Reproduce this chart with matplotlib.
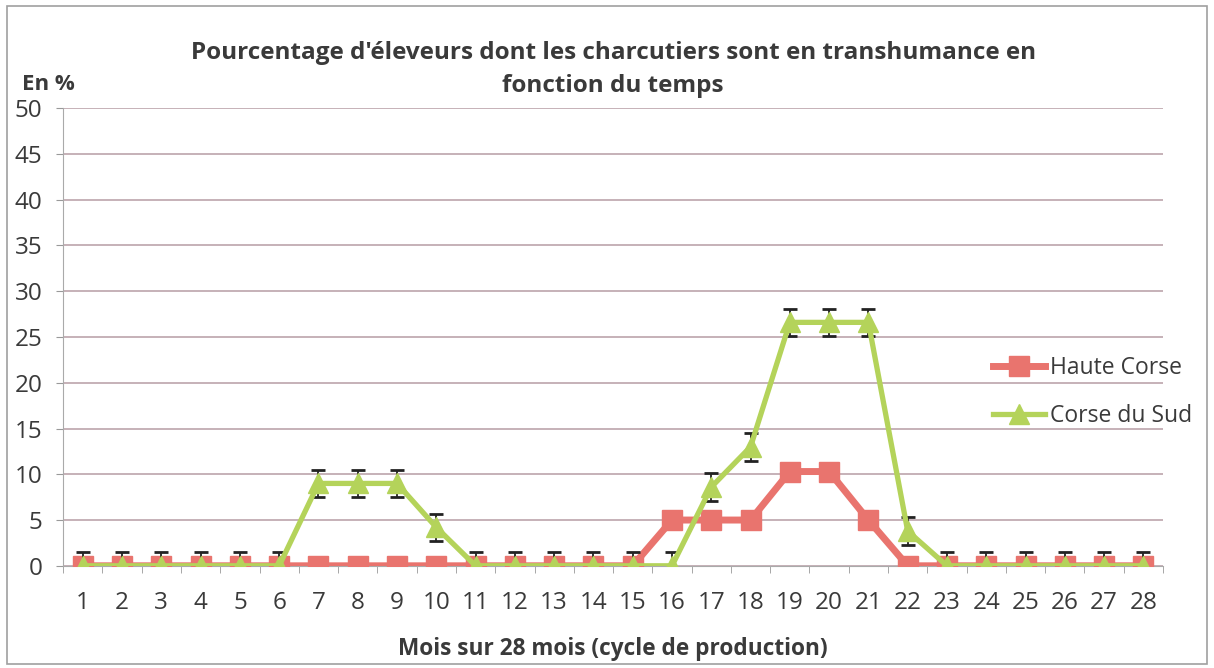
import matplotlib.pyplot as plt
from matplotlib.patches import Rectangle

# data
mois = list(range(1, 29))
haute_corse = [0, 0, 0, 0, 0, 0, 0, 0, 0, 0, 0, 0, 0, 0, 0,
               5, 5, 5, 10.3, 10.3, 5, 0, 0, 0, 0, 0, 0, 0]
corse_du_sud = [0, 0, 0, 0, 0, 0, 9, 9, 9, 4.2, 0, 0, 0, 0, 0,
                0, 8.6, 13, 26.6, 26.6, 26.6, 3.8, 0, 0, 0, 0, 0, 0]
erreur_sud = [1.5] * 28

plt.rcParams['font.family'] = ['Open Sans', 'DejaVu Sans']
text_color = '#3a3a3a'
red = '#e9746e'
green = '#b4d35a'
grid_color = '#bca4ac'

fig = plt.figure(figsize=(12.14, 6.68), dpi=100)
ax = fig.add_axes([0.052, 0.153, 0.906, 0.685])

# outer frame of the chart
fig.patches.append(Rectangle((0.006, 0.006), 0.988, 0.985, transform=fig.transFigure,
                             fill=False, edgecolor='#a0a0a0', linewidth=1.2))

ax.plot(mois, haute_corse, color=red, linewidth=5, marker='s', markersize=15,
        label='Haute Corse', zorder=3)
ax.errorbar(mois, corse_du_sud, yerr=erreur_sud, fmt='none', ecolor='#222222',
            elinewidth=1.3, capsize=5, capthick=2, zorder=4)
ax.plot(mois, corse_du_sud, color=green, linewidth=3.8, marker='^', markersize=15,
        label='Corse du Sud', zorder=5)

ax.set_xlim(0.5, 28.5)
ax.set_ylim(0, 50)
ax.set_yticks(range(0, 51, 5))
ax.set_xticks(mois)
ax.set_xticks([m + 0.5 for m in range(0, 29)], minor=True)
ax.tick_params(axis='x', which='major', length=0, pad=18, labelsize=17.5, labelcolor=text_color)
ax.tick_params(axis='x', which='minor', length=5, color='#999999', direction='out')
ax.tick_params(axis='y', length=5, color='#999999', labelsize=17.5, labelcolor=text_color, pad=10)

ax.grid(axis='y', color=grid_color, linewidth=1.2)
ax.set_axisbelow(True)
for side in ['top', 'right']:
    ax.spines[side].set_visible(False)
ax.spines['left'].set_color('#aaaaaa')
ax.spines['bottom'].set_color('#aaaaaa')
ax.spines['bottom'].set_zorder(1)

ax.set_xlabel('Mois sur 28 mois (cycle de production)', fontsize=16.3, fontweight='bold',
              color=text_color, labelpad=16)
fig.text(0.505, 0.896, "Pourcentage d'éleveurs dont les charcutiers sont en transhumance en\nfonction du temps",
         ha='center', va='center', fontsize=17.5, fontweight='bold', color=text_color, linespacing=1.45)
fig.text(0.018, 0.874, 'En %', fontsize=16, fontweight='bold', color=text_color, va='center')

ax.legend(loc='center left', bbox_to_anchor=(0.845, 0.38), frameon=False, fontsize=16.5,
          handlelength=2.3, labelspacing=1.05, handletextpad=0.2, borderpad=0, borderaxespad=0,
          labelcolor=text_color)

fig.savefig('out.png', dpi=100)
